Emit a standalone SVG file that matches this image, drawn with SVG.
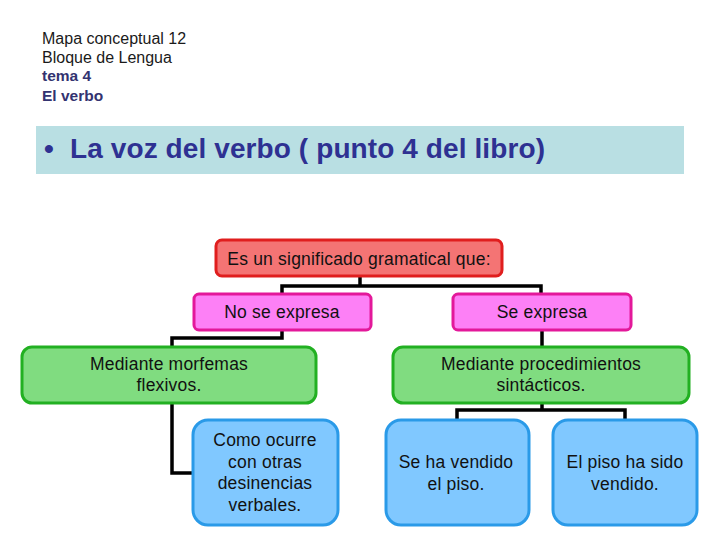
<svg xmlns="http://www.w3.org/2000/svg" width="720" height="540" viewBox="0 0 720 540">
<style>
text{font-family:"Liberation Sans",Arial,sans-serif;}
.hd{font-size:16px;fill:#1a1a1a;}
.hdb{font-size:15.5px;font-weight:bold;fill:#333370;}
.t{font-size:17.5px;fill:#111;text-anchor:middle;letter-spacing:0.2px;}
.red{fill:#f47474;stroke:#e01e1e;stroke-width:3;}
.mag{fill:#fd80f6;stroke:#e3189a;stroke-width:3;}
.grn{fill:#80dc80;stroke:#22b022;stroke-width:3;}
.blu{fill:#80c8ff;stroke:#2a9ae8;stroke-width:3;}
.c{fill:none;stroke:#000;stroke-width:3.5;}
.ti{font-size:28px;font-weight:bold;fill:#2e3192;letter-spacing:0.1px;}
</style>
<rect width="720" height="540" fill="#fff"/>
<g id="header">
<text class="hd" x="42" y="44">Mapa conceptual 12</text>
<text class="hd" x="42" y="63">Bloque de Lengua</text>
<text class="hdb" x="42" y="81">tema 4</text>
<text class="hdb" x="42" y="101">El verbo</text>
</g>
<g id="title">
<rect x="36" y="126" width="648" height="48" fill="#b9dfe3"/>
<text class="ti" x="44" y="158">•</text>
<text class="ti" x="70" y="158">La voz del verbo ( punto 4 del libro)</text>
</g>
<g id="connectors">
<polyline class="c" points="360,276 360,286"/>
<polyline class="c" points="282,294 282,286 541,286 541,294"/>
<polyline class="c" points="282,330 282,338 172,338 172,347"/>
<polyline class="c" points="172,403 172,473 193,473"/>
<polyline class="c" points="542,330 542,347"/>
<polyline class="c" points="542,403 542,410"/>
<polyline class="c" points="457,420 457,410 625,410 625,420"/>
</g>
<g id="n-root">
<rect class="red" x="216" y="240" width="286" height="36" rx="6"/>
<text class="t" x="359" y="265">Es un significado gramatical que:</text>
</g>
<g id="n-no">
<rect class="mag" x="194" y="294" width="177" height="36" rx="5"/>
<text class="t" x="282" y="318">No se expresa</text>
</g>
<g id="n-si">
<rect class="mag" x="453" y="294" width="178" height="36" rx="5"/>
<text class="t" x="542" y="318">Se expresa</text>
</g>
<g id="n-morf">
<rect class="grn" x="22" y="347" width="294" height="56" rx="10"/>
<text class="t" x="169" y="370">Mediante morfemas</text>
<text class="t" x="169" y="391">flexivos.</text>
</g>
<g id="n-proc">
<rect class="grn" x="393" y="347" width="296" height="56" rx="10"/>
<text class="t" x="541" y="370">Mediante procedimientos</text>
<text class="t" x="541" y="391">sintácticos.</text>
</g>
<g id="n-como">
<rect class="blu" x="193" y="420" width="145" height="105" rx="15"/>
<text class="t" x="265" y="446">Como ocurre</text>
<text class="t" x="265" y="468">con otras</text>
<text class="t" x="265" y="489">desinencias</text>
<text class="t" x="265" y="511">verbales.</text>
</g>
<g id="n-seha">
<rect class="blu" x="386" y="420" width="143" height="105" rx="15"/>
<text class="t" x="456" y="468">Se ha vendido</text>
<text class="t" x="456" y="490">el piso.</text>
</g>
<g id="n-piso">
<rect class="blu" x="553" y="420" width="144" height="105" rx="15"/>
<text class="t" x="625" y="468">El piso ha sido</text>
<text class="t" x="625" y="490">vendido.</text>
</g>
</svg>
